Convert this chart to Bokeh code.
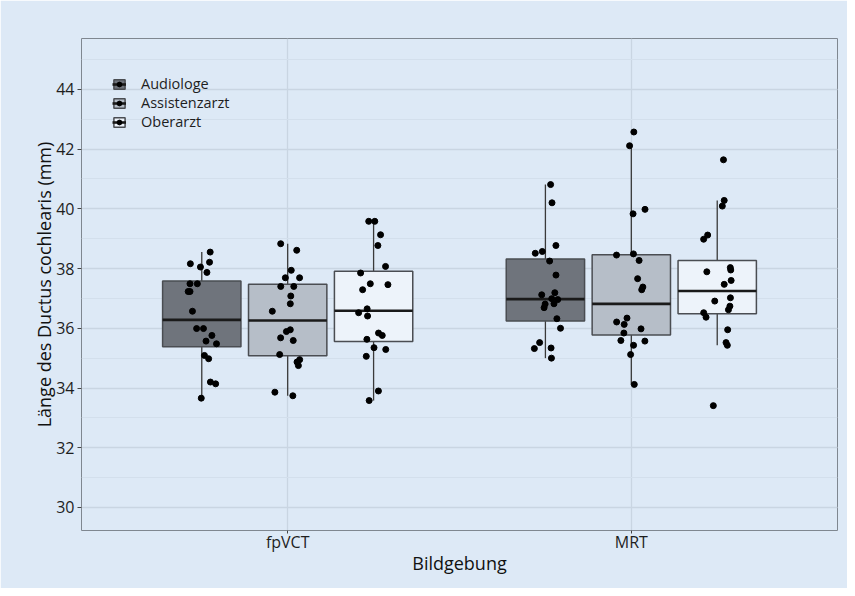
import numpy as np
from bokeh.plotting import figure
from bokeh.models import (ColumnDataSource, Legend, LegendItem, FixedTicker,
                          SingleIntervalTicker, Range1d)
from bokeh.transform import jitter
from bokeh.embed import file_html
from bokeh.resources import INLINE

# ---------------- data ----------------
categories = ["fpVCT", "MRT"]
groups = ["Audiologe", "Assistenzarzt", "Oberarzt"]

fpvct_audiologe = [38.55, 38.21, 38.16, 38.05, 37.87, 37.49, 37.49, 37.23, 37.23, 36.57,
                   35.99, 35.99, 35.76, 35.57, 35.48, 35.09, 34.98, 34.20, 34.14, 33.66]
fpvct_assistenzarzt = [38.83, 38.61, 37.94, 37.69, 37.69, 37.40, 37.40, 37.08, 36.82, 36.57,
                       35.95, 35.89, 35.68, 35.59, 35.12, 34.95, 34.87, 34.75, 33.86, 33.74]
fpvct_oberarzt = [39.58, 39.58, 39.13, 38.77, 38.07, 37.85, 37.49, 37.46, 37.29, 36.65,
                  36.52, 36.41, 35.84, 35.76, 35.63, 35.35, 35.29, 35.06, 33.90, 33.58]
mrt_audiologe = [40.81, 40.20, 38.77, 38.57, 38.51, 38.25, 37.78, 37.19, 37.12, 36.99,
                 36.96, 36.82, 36.81, 36.69, 36.32, 36.00, 35.52, 35.34, 35.32, 35.00]
mrt_assistenzarzt = [42.57, 42.11, 39.98, 39.83, 38.49, 38.45, 38.27, 37.66, 37.38, 37.29,
                     36.34, 36.21, 36.13, 35.98, 35.84, 35.59, 35.57, 35.43, 35.12, 34.12]
mrt_oberarzt = [41.64, 40.28, 40.09, 39.12, 38.98, 38.03, 37.95, 37.89, 37.60, 37.47,
                37.02, 36.91, 36.74, 36.62, 36.52, 36.37, 35.95, 35.52, 35.43, 33.41]

values = {
    ("fpVCT", "Audiologe"): fpvct_audiologe,
    ("fpVCT", "Assistenzarzt"): fpvct_assistenzarzt,
    ("fpVCT", "Oberarzt"): fpvct_oberarzt,
    ("MRT", "Audiologe"): mrt_audiologe,
    ("MRT", "Assistenzarzt"): mrt_assistenzarzt,
    ("MRT", "Oberarzt"): mrt_oberarzt,
}

y_ticks = [30, 32, 34, 36, 38, 40, 42, 44]

# ---------------- styles ----------------
BG = "#dde9f6"
fills = {"Audiologe": "#6f747c", "Assistenzarzt": "#b6bec8", "Oberarzt": "#edf3fa"}
BOX_LINE = "#4a4d52"
FONT = "Open Sans"
DODGE = 0.25
HALF_W = 0.114

p = figure(width=847, height=588, output_backend="svg", toolbar_location=None,
           x_range=Range1d(0.4, 2.6), y_range=Range1d(29.23, 45.7),
           min_border_left=81, min_border_right=10, min_border_top=38, min_border_bottom=58,
           background_fill_color=BG, border_fill_color=BG)

p.outline_line_color = "#7f8790"
p.outline_line_width = 1

# grids
p.ygrid.ticker = SingleIntervalTicker(interval=2, num_minor_ticks=2)
p.ygrid.grid_line_color = "#c9d5e2"
p.ygrid.grid_line_width = 1.3
p.ygrid.minor_grid_line_color = "#d3dfec"
p.ygrid.minor_grid_line_width = 1
p.xgrid.ticker = FixedTicker(ticks=[1, 2])
p.xgrid.grid_line_color = "#c9d5e2"
p.xgrid.grid_line_width = 1.3

# axes
p.yaxis.ticker = FixedTicker(ticks=y_ticks)
p.xaxis.ticker = FixedTicker(ticks=[1, 2])
p.xaxis.major_label_overrides = {i + 1: c for i, c in enumerate(categories)}
for ax in (p.xaxis[0], p.yaxis[0]):
    ax.axis_line_color = None
    ax.major_tick_line_color = "#444444"
    ax.major_tick_in = 0
    ax.major_tick_out = 4
    ax.minor_tick_line_color = None
    ax.major_label_text_font = FONT
    ax.major_label_text_font_size = "16px"
    ax.major_label_text_color = "#1e1e1e"
    ax.axis_label_text_font = FONT
    ax.axis_label_text_font_size = "18px"
    ax.axis_label_text_font_style = "normal"
    ax.axis_label_text_color = "#111111"
p.yaxis.major_label_standoff = 3
p.yaxis.axis_label_standoff = -3
p.xaxis.major_tick_out = 3
p.xaxis.major_label_standoff = -3
p.xaxis.axis_label_standoff = -5
p.yaxis.axis_label = "Länge des Ductus cochlearis (mm)"
p.xaxis.axis_label = "Bildgebung"

legend_parts = {}

for ci, cat in enumerate(categories):
    for gi, grp in enumerate(groups):
        vals = np.array(values[(cat, grp)], dtype=float)
        xc = ci + 1 + (gi - 1) * DODGE
        q1, med, q3 = np.percentile(vals, [25, 50, 75])
        iqr = q3 - q1
        upper = vals[vals <= q3 + 1.5 * iqr].max()
        lower = vals[vals >= q1 - 1.5 * iqr].min()

        wsrc = ColumnDataSource(dict(x0=[xc, xc], y0=[q3, q1], x1=[xc, xc], y1=[upper, lower]))
        p.segment("x0", "y0", "x1", "y1", source=wsrc, line_color="#3a3a3a", line_width=1.3)

        bsrc = ColumnDataSource(dict(left=[xc - HALF_W], right=[xc + HALF_W], top=[q3], bottom=[q1]))
        qr = p.quad("left", "right", "top", "bottom", source=bsrc, fill_color=fills[grp],
                    line_color=BOX_LINE, line_width=1.5)

        msrc = ColumnDataSource(dict(x0=[xc - HALF_W], x1=[xc + HALF_W], y=[med]))
        mr = p.segment("x0", "y", "x1", "y", source=msrc, line_color="#1a1a1a", line_width=2.6)

        psrc = ColumnDataSource(dict(x=[xc] * len(vals), y=vals))
        pr = p.scatter(jitter("x", width=0.09, distribution="uniform"), "y", source=psrc,
                       size=6, fill_color="black", line_color="black")

        if cat == categories[0]:
            legend_parts[grp] = [qr, mr, pr]

legend = Legend(items=[LegendItem(label=g, renderers=legend_parts[g]) for g in groups],
                location=(31, 399), orientation="vertical",
                label_text_font=FONT, label_text_font_size="14.5px", label_text_color="#1e1e1e",
                glyph_width=14, glyph_height=12, label_standoff=15, label_height=18,
                spacing=0, padding=0, margin=0,
                background_fill_alpha=0, border_line_alpha=0)
p.add_layout(legend)

open("out.html", "w").write(file_html(p, INLINE))
